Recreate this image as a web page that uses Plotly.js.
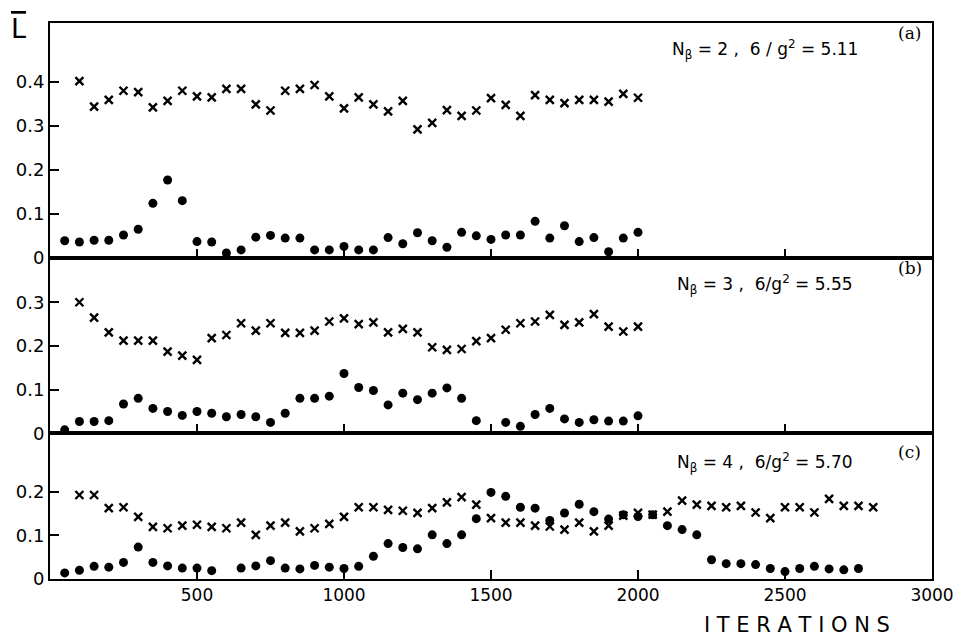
<!DOCTYPE html>
<html>
<head>
<meta charset="utf-8">
<script src="https://cdn.plot.ly/plotly-3.0.1.min.js"></script>
<style>html,body{margin:0;padding:0;background:#fff;}#chart{width:953px;height:638px;}</style>
</head>
<body>
<div id="chart"></div>
<script>
// ---- Panel (a): N_beta = 2, 6/g^2 = 5.11 ----
const itersCrossA = [100,150,200,250,300,350,400,450,500,550,600,650,700,750,800,850,900,950,1000,1050,1100,1150,1200,1250,1300,1350,1400,1450,1500,1550,1600,1650,1700,1750,1800,1850,1900,1950,2000];
const crossA = [0.402,0.344,0.359,0.380,0.377,0.342,0.357,0.380,0.367,0.365,0.384,0.384,0.349,0.335,0.380,0.384,0.393,0.367,0.340,0.365,0.349,0.333,0.357,0.292,0.307,0.336,0.323,0.335,0.363,0.348,0.323,0.370,0.359,0.352,0.359,0.359,0.355,0.373,0.364];
const itersDotA = [50,100,150,200,250,300,350,400,450,500,550,600,650,700,750,800,850,900,950,1000,1050,1100,1150,1200,1250,1300,1350,1400,1450,1500,1550,1600,1650,1700,1750,1800,1850,1900,1950,2000];
const dotA = [0.039,0.036,0.040,0.040,0.052,0.065,0.124,0.177,0.130,0.037,0.036,0.011,0.018,0.047,0.051,0.045,0.045,0.018,0.018,0.026,0.018,0.018,0.046,0.032,0.057,0.039,0.024,0.058,0.050,0.042,0.052,0.052,0.083,0.045,0.073,0.037,0.046,0.014,0.045,0.058];

// ---- Panel (b): N_beta = 3, 6/g^2 = 5.55 ----
const itersCrossB = [100,150,200,250,300,350,400,450,500,550,600,650,700,750,800,850,900,950,1000,1050,1100,1150,1200,1250,1300,1350,1400,1450,1500,1550,1600,1650,1700,1750,1800,1850,1900,1950,2000];
const crossB = [0.300,0.265,0.231,0.212,0.212,0.212,0.187,0.178,0.168,0.218,0.225,0.252,0.235,0.252,0.230,0.230,0.235,0.256,0.263,0.250,0.254,0.231,0.239,0.231,0.197,0.191,0.193,0.211,0.218,0.237,0.252,0.256,0.271,0.248,0.254,0.273,0.244,0.233,0.244];
const itersDotB = [50,100,150,200,250,300,350,400,450,500,550,600,650,700,750,800,850,900,950,1000,1050,1100,1150,1200,1250,1300,1350,1400,1450,1550,1600,1650,1700,1750,1800,1850,1900,1950,2000];
const dotB = [0.008,0.027,0.027,0.029,0.067,0.080,0.057,0.050,0.041,0.050,0.046,0.038,0.043,0.038,0.025,0.046,0.080,0.080,0.085,0.137,0.105,0.098,0.065,0.092,0.077,0.092,0.104,0.080,0.029,0.025,0.016,0.043,0.057,0.033,0.025,0.031,0.028,0.028,0.040];

// ---- Panel (c): N_beta = 4, 6/g^2 = 5.70 ----
const itersCrossC = [100,150,200,250,300,350,400,450,500,550,600,650,700,750,800,850,900,950,1000,1050,1100,1150,1200,1250,1300,1350,1400,1450,1500,1550,1600,1650,1700,1750,1800,1850,1900,1950,2000,2050,2100,2150,2200,2250,2300,2350,2400,2450,2500,2550,2600,2650,2700,2750,2800];
const crossC = [0.192,0.192,0.162,0.164,0.142,0.119,0.116,0.122,0.124,0.119,0.116,0.129,0.101,0.122,0.129,0.109,0.116,0.126,0.142,0.164,0.164,0.158,0.156,0.151,0.162,0.175,0.187,0.170,0.139,0.129,0.129,0.122,0.120,0.113,0.129,0.109,0.122,0.145,0.151,0.147,0.154,0.179,0.170,0.167,0.164,0.167,0.152,0.139,0.164,0.164,0.152,0.183,0.167,0.167,0.164];
const itersDotC = [50,100,150,200,250,300,350,400,450,500,550,650,700,750,800,850,900,950,1000,1050,1100,1150,1200,1250,1300,1350,1400,1450,1500,1550,1600,1650,1700,1750,1800,1850,1900,1950,2000,2050,2100,2150,2200,2250,2300,2350,2400,2450,2500,2550,2600,2650,2700,2750];
const dotC = [0.014,0.020,0.029,0.027,0.038,0.073,0.038,0.030,0.025,0.025,0.019,0.025,0.030,0.042,0.025,0.023,0.031,0.027,0.024,0.029,0.052,0.081,0.072,0.069,0.101,0.081,0.101,0.138,0.198,0.189,0.164,0.162,0.134,0.151,0.171,0.154,0.137,0.147,0.143,0.147,0.122,0.113,0.101,0.044,0.035,0.035,0.033,0.024,0.017,0.024,0.029,0.023,0.021,0.024];

// ---- tick labels ----
const xTicks = [500,1000,1500,2000,2500,3000];
const yTicksA = [0,0.1,0.2,0.3,0.4];
const yTicksB = [0,0.1,0.2,0.3];
const yTicksC = [0,0.1,0.2];
const panelLabels = ['N<sub>β</sub> = 2 ,  6 / g<sup>2</sup> = 5.11', 'N<sub>β</sub> = 3 ,  6/g<sup>2</sup> = 5.55', 'N<sub>β</sub> = 4 ,  6/g<sup>2</sup> = 5.70'];
const panelTags = ['(a)','(b)','(c)'];

const crossMarker = {symbol:'x-thin-open', size:8, color:'#000', line:{color:'#000', width:2.4}};
const dotMarker = {symbol:'circle', size:9, color:'#000', line:{width:0}};

function tr(x, y, xa, ya, m) {
  return {x:x, y:y, xaxis:xa, yaxis:ya, type:'scatter', mode:'markers', marker:m, cliponaxis:false, hoverinfo:'x+y'};
}
const data = [
  tr(itersCrossA, crossA, 'x3', 'y3', crossMarker),
  tr(itersDotA, dotA, 'x3', 'y3', dotMarker),
  tr(itersCrossB, crossB, 'x2', 'y2', crossMarker),
  tr(itersDotB, dotB, 'x2', 'y2', dotMarker),
  tr(itersCrossC, crossC, 'x', 'y', crossMarker),
  tr(itersDotC, dotC, 'x', 'y', dotMarker)
];

const tickFont = {family:'DejaVu Sans, sans-serif', size:18, color:'#000'};
function xax(anchor, showLabels) {
  return {anchor:anchor, range:[0,3000], tickmode:'array', tickvals:xTicks,
    showticklabels:showLabels, ticks:'inside', ticklen:9, tickwidth:2, tickcolor:'#000',
    showline:true, linecolor:'#000', linewidth:2, mirror:true, showgrid:false, zeroline:false,
    ticklabeloverflow:'allow',
    tickfont:{family:'DejaVu Sans, sans-serif', size:17, color:'#000'}};
}
function yax(anchor, dom, top, tv) {
  return {anchor:anchor, domain:dom, range:[0,top], tickmode:'array', tickvals:tv,
    ticks:'inside', ticklen:9, tickwidth:2, tickcolor:'#000',
    showline:true, linecolor:'#000', linewidth:2, mirror:true, showgrid:false, zeroline:false,
    tickfont:tickFont};
}

const ann = [];
const textY = [0.9515, 0.529, 0.209];
const tagY = [0.982, 0.5596, 0.229];
for (let i = 0; i < 3; i++) {
  ann.push({xref:'paper', yref:'paper', x:0.8107, y:textY[i], xanchor:'center', yanchor:'middle',
    text:panelLabels[i], showarrow:false, font:{family:'DejaVu Sans, sans-serif', size:17, color:'#000'}});
  ann.push({xref:'paper', yref:'paper', x:0.975, y:tagY[i], xanchor:'center', yanchor:'middle',
    text:panelTags[i], showarrow:false, font:{family:'DejaVu Serif, serif', size:17, color:'#000'}});
}
ann.push({xref:'paper', yref:'paper', x:-0.036, y:0.99, xanchor:'center', yanchor:'middle',
  text:'<span style="text-decoration:overline">L</span>', showarrow:false, font:{family:'DejaVu Sans, sans-serif', size:27, color:'#000'}});
ann.push({xref:'paper', yref:'paper', x:0.847, y:-0.082, xanchor:'center', yanchor:'middle',
  text:'I T E R A T I O N S', showarrow:false, font:{family:'DejaVu Sans, sans-serif', size:21, color:'#000'}});

const layout = {
  width:953, height:638,
  margin:{l:50, r:21, t:23, b:59},
  paper_bgcolor:'#fff', plot_bgcolor:'#fff',
  showlegend:false,
  xaxis: xax('y', true),
  xaxis2: xax('y2', false),
  xaxis3: xax('y3', false),
  yaxis: yax('x', [0, 0.262], 0.333, yTicksC),
  yaxis2: yax('x2', [0.262, 0.5776], 0.4016, yTicksB),
  yaxis3: yax('x3', [0.5776, 1], 0.534, yTicksA),
  annotations: ann
};

Plotly.newPlot('chart', data, layout, {displayModeBar:false, staticPlot:true});
</script>
</body>
</html>
